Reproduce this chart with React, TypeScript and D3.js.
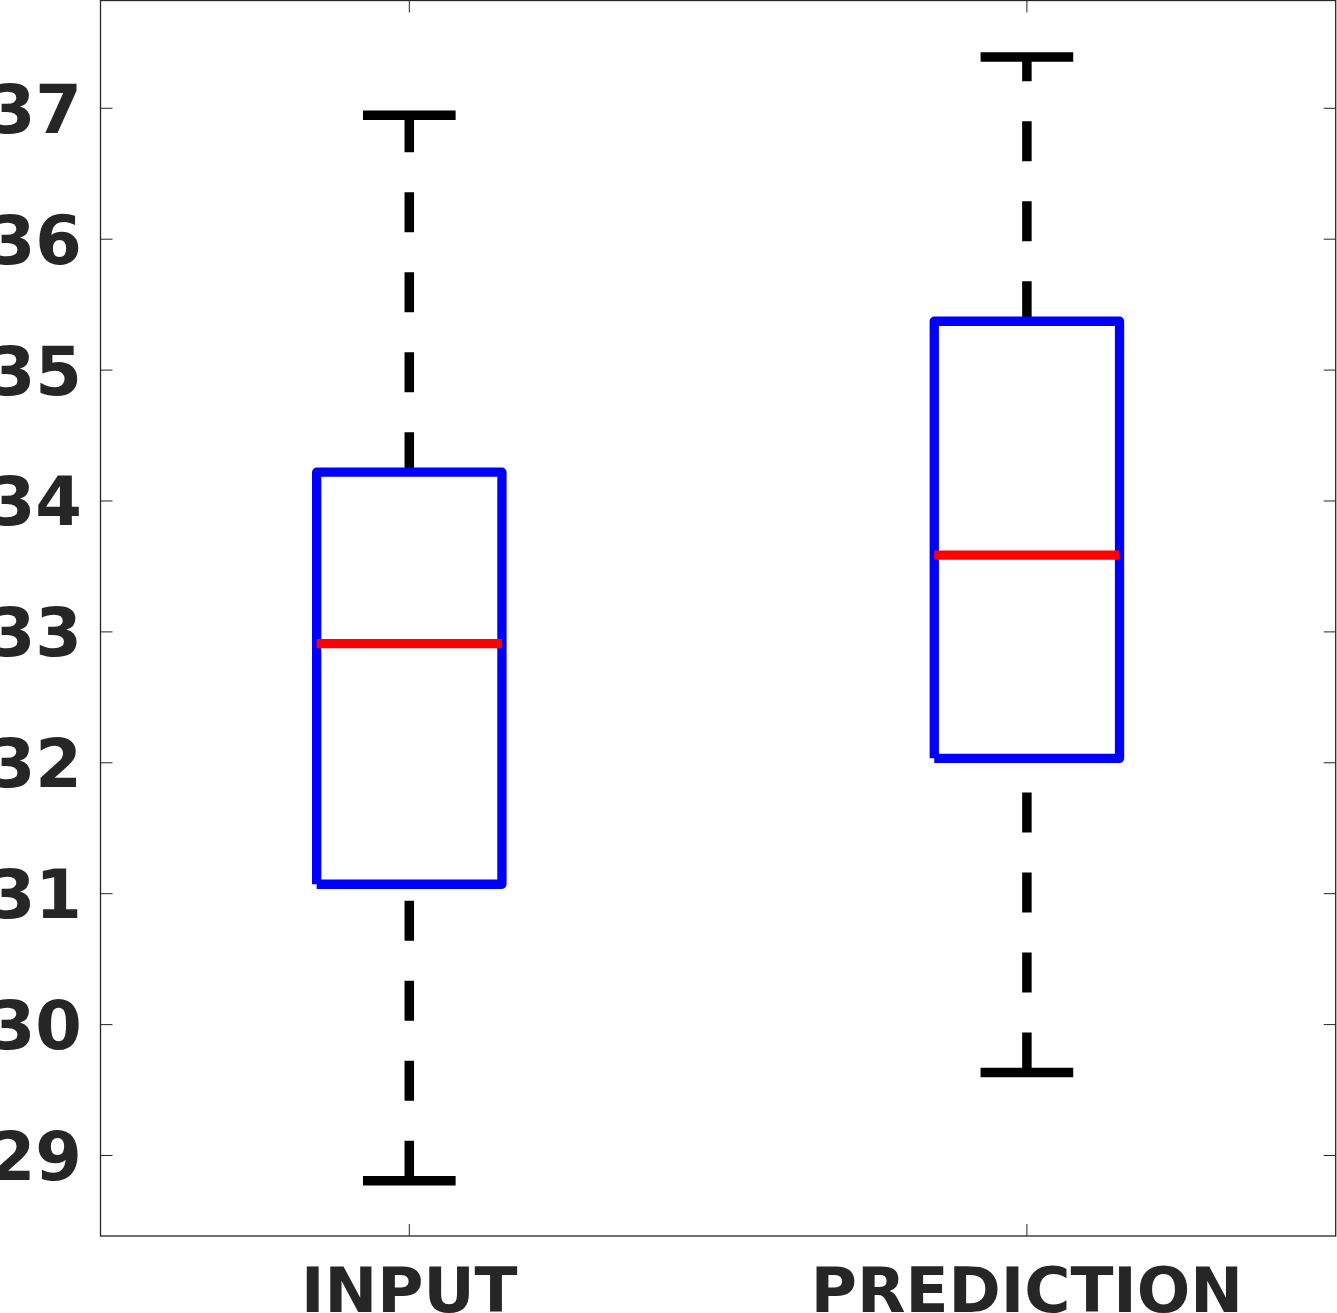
import React from "react";
import * as d3 from "d3";

const categories = ["INPUT", "PREDICTION"];
const upperWhisker = [36.947, 37.392];
const q3 = [34.22, 35.373];
const median = [32.91, 33.587];
const q1 = [31.072, 32.034];
const lowerWhisker = [28.807, 29.634];
const yTicks = [29, 30, 31, 32, 33, 34, 35, 36, 37];
const yDomain = [28.385, 37.8235];
const xDomain = [0.5, 2.5];

const W = 1337;
const H = 1313;
const left = 100.5;
const right = 1335.7;
const top = 0.5;
const bottom = 1236;
const axisColor = "#262626";
const font = "'DejaVu Sans', sans-serif";

export default function App() {
  const x = d3.scaleLinear().domain(xDomain).range([left, right]);
  const y = d3.scaleLinear().domain(yDomain).range([bottom, top]);
  const boxHalf = 0.15;
  const capHalf = 0.075;
  const tickLen = 12;
  const tickFs = 67;
  const labelFs = 63;

  return (
    <svg
      width={W}
      height={H}
      style={{ position: "absolute", left: 0, top: 0, background: "#fff" }}
    >
      <rect x={0} y={0} width={W} height={H} fill="#fff" />
      {/* y ticks */}
      {yTicks.map((t) => (
        <g key={t}>
          <line x1={left} x2={left + tickLen} y1={y(t)} y2={y(t)} stroke={axisColor} strokeWidth={1} />
          <line x1={right - tickLen} x2={right} y1={y(t)} y2={y(t)} stroke={axisColor} strokeWidth={1} />
          <text
            x={82}
            y={y(t) + 0.3645 * tickFs}
            textAnchor="end"
            fontFamily={font}
            fontWeight="bold"
            fontSize={tickFs}
            fill={axisColor}
          >
            {t}
          </text>
        </g>
      ))}
      {/* x ticks + labels */}
      {categories.map((c, i) => (
        <g key={c}>
          <line x1={x(i + 1)} x2={x(i + 1)} y1={bottom} y2={bottom - tickLen} stroke={axisColor} strokeWidth={1} />
          <line x1={x(i + 1)} x2={x(i + 1)} y1={top} y2={top + tickLen} stroke={axisColor} strokeWidth={1} />
          <text
            x={x(i + 1)}
            y={1266 + 0.729 * labelFs}
            textAnchor="middle"
            fontFamily={font}
            fontWeight="bold"
            fontSize={labelFs}
            fill={axisColor}
          >
            {c}
          </text>
        </g>
      ))}
      {/* boxes */}
      {categories.map((c, i) => {
        const cx = x(i + 1);
        const bx1 = x(i + 1 - boxHalf);
        const bx2 = x(i + 1 + boxHalf);
        const cx1 = x(i + 1 - capHalf);
        const cx2 = x(i + 1 + capHalf);
        const path = d3.path();
        path.moveTo(bx1, y(q1[i]));
        path.lineTo(bx1, y(q3[i]));
        path.lineTo(bx2, y(q3[i]));
        path.lineTo(bx2, y(q1[i]));
        path.lineTo(bx1, y(q1[i]));
        return (
          <g key={c}>
            <line x1={cx} x2={cx} y1={y(q3[i])} y2={y(upperWhisker[i])} stroke="#000" strokeWidth={9.5} strokeDasharray="40 40" />
            <line x1={cx} x2={cx} y1={y(lowerWhisker[i])} y2={y(q1[i])} stroke="#000" strokeWidth={9.5} strokeDasharray="40 40" />
            <line x1={cx1} x2={cx2} y1={y(upperWhisker[i])} y2={y(upperWhisker[i])} stroke="#000" strokeWidth={9.5} />
            <line x1={cx1} x2={cx2} y1={y(lowerWhisker[i])} y2={y(lowerWhisker[i])} stroke="#000" strokeWidth={9.5} />
            <path d={path.toString()} fill="none" stroke="#0000ff" strokeWidth={9.3} strokeLinejoin="round" strokeLinecap="butt" />
            <line x1={bx1} x2={bx2} y1={y(median[i])} y2={y(median[i])} stroke="#ff0000" strokeWidth={9.3} />
          </g>
        );
      })}
      {/* axes box */}
      <rect x={left} y={top} width={right - left} height={bottom - top} fill="none" stroke={axisColor} strokeWidth={1.3} />
    </svg>
  );
}
